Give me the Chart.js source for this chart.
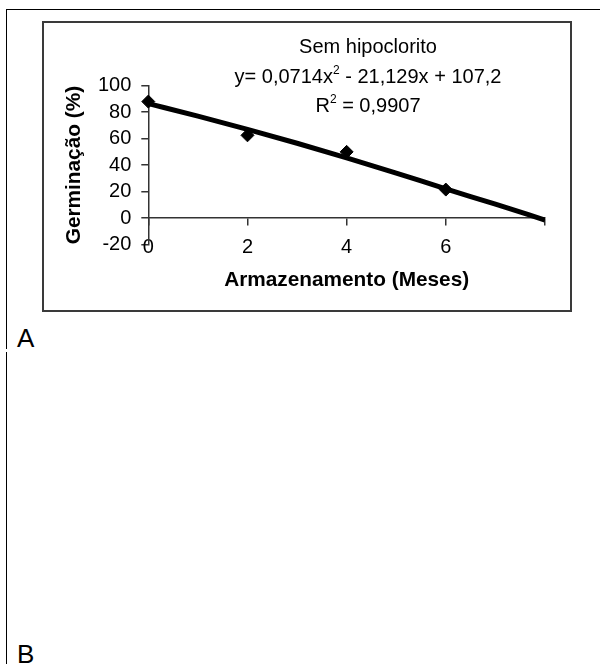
<!DOCTYPE html>
<html>
<head>
<meta charset="utf-8">
<script src="https://cdn.jsdelivr.net/npm/chart.js@4"></script>
<style>
  body { margin: 0; background: #fff; }
  #pagina { position: relative; width: 600px; height: 664px; overflow: hidden; font-family: "Liberation Sans", Arial, sans-serif; }
  .linha { position: absolute; background: #000; }
  #caixa { position: absolute; left: 42px; top: 21px; width: 530px; height: 291px; box-sizing: border-box; border: 2px solid #3a3a3a; }
  .letra { position: absolute; left: 17px; font-size: 26px; line-height: 26px; color: #000; }
  #grafico { position: absolute; left: 0; top: 0; }
</style>
</head>
<body>
<div id="pagina">
  <div class="linha" style="left:6px; top:9px; width:594px; height:1px;"></div>
  <div class="linha" style="left:6px; top:9px; width:1px; height:340px;"></div>
  <div class="linha" style="left:6px; top:352px; width:1px; height:312px;"></div>
  <div id="caixa"></div>
  <div class="letra" style="top:325px;">A</div>
  <div class="letra" style="top:641px;">B</div>
  <canvas id="grafico" width="600" height="664"></canvas>
</div>
<script>
// valores
const meses = [0, 2, 4, 6];
const germinacao = [88, 62.5, 50, 21.5];

// linha de tendência (lida ponto a ponto)
const mesesTendencia = [0, 1, 2, 3, 4, 5, 6, 7, 8];
const tendencia = [86.5, 77, 67, 56.5, 45.5, 34, 22, 10.5, -1.5];

const rotulosX = ['0', '2', '4', '6', ''];

// texto da equação: [texto, sobrescrito]
const legendaLinhas = [
    [['Sem hipoclorito', false]],
    [['y= 0,0714x', false], ['2', true], [' - 21,129x + 107,2', false]],
    [['R', false], ['2', true], [' = 0,9907', false]]
];

const fonte = '"Liberation Sans", Arial, sans-serif';

const textoEquacao = {
    id: 'textoEquacao',
    afterDraw(chart) {
        const ctx = chart.ctx;
        const centroX = 368;
        const bases = [53, 83.3, 111.7];
        ctx.save();
        ctx.fillStyle = '#000';
        ctx.textBaseline = 'alphabetic';
        legendaLinhas.forEach((partes, i) => {
            let largura = 0;
            partes.forEach(p => {
                ctx.font = (p[1] ? '12px ' : '20px ') + fonte;
                largura += ctx.measureText(p[0]).width;
            });
            let x = centroX - largura / 2;
            partes.forEach(p => {
                ctx.font = (p[1] ? '12px ' : '20px ') + fonte;
                ctx.fillText(p[0], x, p[1] ? bases[i] - 9 : bases[i]);
                x += ctx.measureText(p[0]).width;
            });
        });
        ctx.restore();
    }
};

const ctx = document.getElementById('grafico');

new Chart(ctx, {
    type: 'line',
    data: {
        datasets: [{
            label: 'Tendência',
            data: mesesTendencia.map((m, i) => ({ x: m, y: tendencia[i] })),
            borderColor: '#000',
            borderWidth: 5,
            pointRadius: 0,
            cubicInterpolationMode: 'monotone',
            fill: false
        }, {
            label: 'Sem hipoclorito',
            data: meses.map((m, i) => ({ x: m, y: germinacao[i] })),
            showLine: false,
            clip: false,
            pointStyle: 'rectRot',
            pointRadius: 6.5,
            pointBackgroundColor: '#000',
            pointBorderColor: '#000',
            pointBorderWidth: 1
        }]
    },
    options: {
        responsive: false,
        animation: false,
        layout: {
            padding: { left: 0, top: 85.7, right: 55, bottom: 353 }
        },
        plugins: {
            legend: { display: false },
            tooltip: { enabled: false }
        },
        scales: {
            x: {
                type: 'linear',
                position: { y: 0 },
                min: 0,
                max: 8,
                grid: { drawOnChartArea: false, tickLength: 7, color: '#333', lineWidth: 1.5 },
                border: { color: '#333', width: 1.5 },
                ticks: {
                    stepSize: 2,
                    autoSkip: false,
                    maxRotation: 0,
                    padding: 10,
                    color: '#000',
                    font: { family: fonte, size: 20 },
                    callback: (v, i) => rotulosX[i]
                }
            },
            x2: {
                type: 'linear',
                position: 'bottom',
                min: 0,
                max: 8,
                grid: { display: false },
                border: { display: false },
                ticks: { display: false },
                title: {
                    display: true,
                    text: 'Armazenamento (Meses)',
                    color: '#000',
                    font: { family: fonte, size: 20.8, weight: 'bold' },
                    padding: { top: 0, bottom: 18.5 }
                },
                afterFit(escala) { escala.height = 66.5; }
            },
            y: {
                position: 'left',
                min: -20,
                max: 100,
                grid: { drawOnChartArea: false, tickLength: 7, color: '#333', lineWidth: 1.5 },
                border: { color: '#333', width: 1.5 },
                ticks: {
                    stepSize: 20,
                    autoSkip: false,
                    padding: 10,
                    color: '#000',
                    font: { family: fonte, size: 20 }
                },
                title: {
                    display: true,
                    text: 'Germinação (%)',
                    color: '#000',
                    font: { family: fonte, size: 20.8, weight: 'bold' },
                    padding: { top: 62, bottom: 0 }
                },
                afterFit(escala) { escala.width = 148.3; }
            }
        }
    },
    plugins: [textoEquacao]
});
</script>
</body>
</html>
